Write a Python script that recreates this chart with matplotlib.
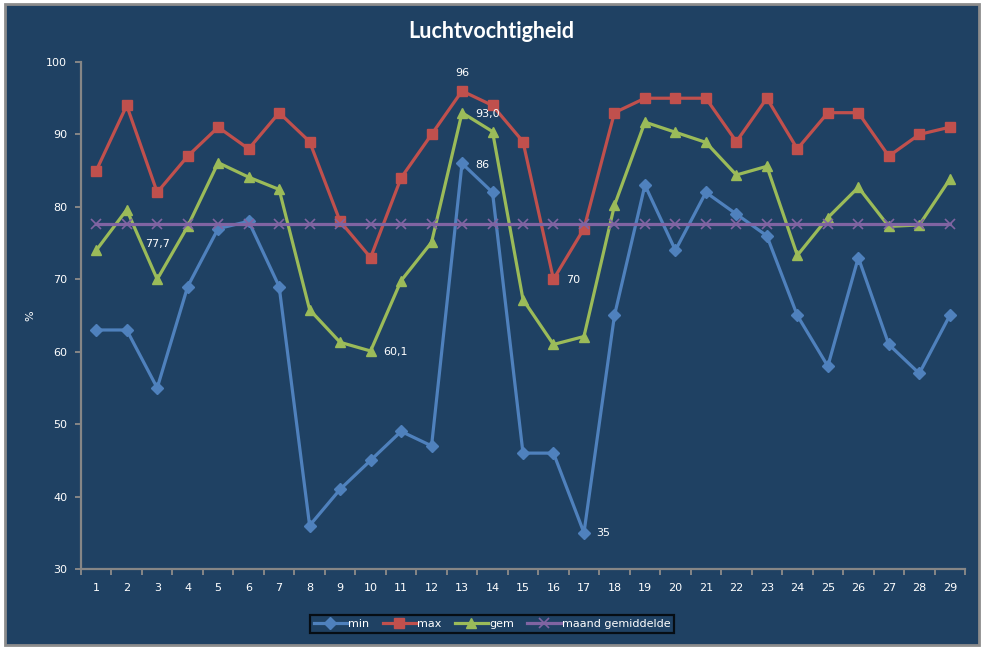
import numpy as np
import matplotlib.pyplot as plt
from matplotlib.patches import Rectangle
from matplotlib.ticker import MultipleLocator, FixedLocator

# daily humidity values (%)
days = list(range(1, 30))
hum_min = [63, 63, 55, 69, 77, 78, 69, 36, 41, 45, 49, 47, 86, 82, 46,
           46, 35, 65, 83, 74, 82, 79, 76, 65, 58, 73, 61, 57, 65]
hum_max = [85, 94, 82, 87, 91, 88, 93, 89, 78, 73, 84, 90, 96, 94, 89,
           70, 77, 93, 95, 95, 95, 89, 95, 88, 93, 93, 87, 90, 91]
hum_gem = [74.0, 79.6, 70.0, 77.3, 86.1, 84.1, 82.4, 65.8, 61.3, 60.1, 69.8, 75.1, 93.0, 90.4, 67.2,
           61.0, 62.1, 80.2, 91.7, 90.3, 88.9, 84.4, 85.6, 73.3, 78.5, 82.7, 77.3, 77.5, 83.8]
month_avg = 77.7
hum_avg = [month_avg] * len(days)

BG = "#1F4163"
C_MIN = "#4F81BD"
C_MAX = "#C0504D"
C_GEM = "#9BBB59"
C_AVG = "#8064A2"
GRIDC = "#868686"

fig = plt.figure(figsize=(9.87, 6.48), dpi=100, facecolor="white")
# chart area panel with grey border
fig.patches.append(Rectangle((5 / 987, 3 / 648), 974 / 987, 641 / 648,
                             transform=fig.transFigure, facecolor=BG,
                             edgecolor="#8C8C8C", linewidth=2, zorder=-1))

ax = fig.add_axes([81 / 987, 1 - 569 / 648, 884 / 987, 507 / 648])
ax.set_facecolor(BG)

l1, = ax.plot(days, hum_min, color=C_MIN, lw=2.3, marker="D", ms=6, label="min")
l2, = ax.plot(days, hum_max, color=C_MAX, lw=2.3, marker="s", ms=7.5, label="max")
l3, = ax.plot(days, hum_gem, color=C_GEM, lw=2.3, marker="^", ms=7.5, label="gem")
l4, = ax.plot(days, hum_avg, color=C_AVG, lw=2.3, marker="x", ms=7, mew=1.2,
              label="maand gemiddelde")

ax.set_xlim(0.5, len(days) + 0.5)
ax.set_ylim(30, 100)
ax.yaxis.set_major_locator(MultipleLocator(10))
ax.set_xticks(days)
ax.xaxis.set_minor_locator(FixedLocator(np.arange(0.5, len(days) + 1, 1)))

for s in ["top", "right"]:
    ax.spines[s].set_visible(False)
for s in ["left", "bottom"]:
    ax.spines[s].set_color(GRIDC)
    ax.spines[s].set_linewidth(1.6)

ax.tick_params(axis="x", which="major", length=0, pad=10, labelsize=8, labelcolor="white")
ax.tick_params(axis="x", which="minor", length=4, width=1.4, color=GRIDC, direction="out")
ax.tick_params(axis="y", which="major", length=4, width=1.4, color=GRIDC, direction="out",
               pad=6, labelsize=8, labelcolor="white")

# data labels
def lab(x, y, txt, dx, dy, ha="left"):
    ax.annotate(txt, (x, y), xytext=(dx, dy), textcoords="offset pixels",
                ha=ha, va="center", color="white", fontsize=8)

lab(3, month_avg, "77,7", 0, -20, ha="center")
lab(13, hum_max[12], "96", 0, 18, ha="center")
lab(13, hum_gem[12], "93,0", 13, -1)
lab(13, hum_min[12], "86", 13, -2)
lab(16, hum_max[15], "70", 13, -1)
lab(10, hum_gem[9], "60,1", 13, -1)
lab(17, hum_min[16], "35", 12, 0)

fig.text(491 / 987, 1 - 31 / 648, "Luchtvochtigheid", ha="center", va="center",
         color="white", fontsize=15.5, fontweight="bold", family="Lato")
fig.text(30 / 987, 1 - 316 / 648, "%", ha="center", va="center", rotation=90,
         color="white", fontsize=8)

leg = fig.legend(handles=[l1, l2, l3, l4], loc="center", bbox_to_anchor=(492 / 987, 1 - 624 / 648),
                 ncol=4, frameon=True, fontsize=8, handlelength=3.0, handletextpad=0.1,
                 columnspacing=1.2, borderpad=0.35, fancybox=False)
leg.get_frame().set_facecolor(BG)
leg.get_frame().set_edgecolor("black")
leg.get_frame().set_linewidth(1.6)
for t in leg.get_texts():
    t.set_color("white")

fig.savefig("out.png", dpi=100, facecolor=fig.get_facecolor())
